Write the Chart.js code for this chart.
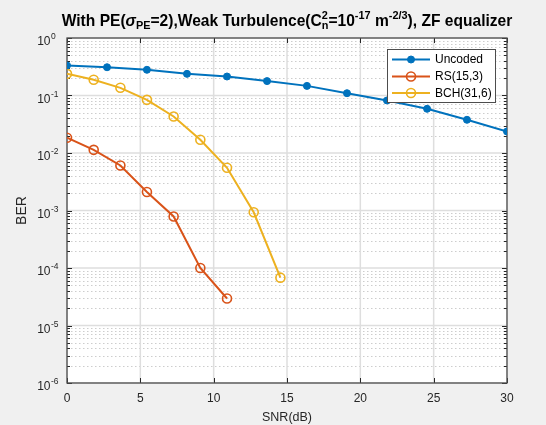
<!DOCTYPE html>
<html><head><meta charset="utf-8">
<script src="https://cdn.jsdelivr.net/npm/chart.js@4/dist/chart.umd.min.js"></script>
<style>html,body{margin:0;padding:0;background:#f0f0f0;overflow:hidden}canvas{display:block}</style>
</head><body>
<canvas id="c" width="546" height="425"></canvas>
<script>
// ---- data ----
const seriesLabels = ['Uncoded', 'RS(15,3)', 'BCH(31,6)'];
const snrUncoded = [0, 2.73, 5.45, 8.18, 10.91, 13.64, 16.36, 19.09, 21.82, 24.55, 27.27, 30];
const berUncoded = [0.333, 0.31, 0.28, 0.238, 0.214, 0.178, 0.147, 0.1096, 0.082, 0.0587, 0.0378, 0.0237];
const snrRS = [0, 1.82, 3.64, 5.45, 7.27, 9.09, 10.91];
const berRS = [0.0184, 0.01135, 0.00607, 0.0021, 0.000787, 0.0001, 0.0000295];
const snrBCH = [0, 1.82, 3.64, 5.45, 7.27, 9.09, 10.91, 12.73, 14.55];
const berBCH = [0.238, 0.1875, 0.136, 0.084, 0.0431, 0.017, 0.00553, 0.00093, 0.000068];
const xTickValues = [0, 5, 10, 15, 20, 25, 30];
const yTickExponents = [0, -1, -2, -3, -4, -5, -6];
const xAxisTitle = 'SNR(dB)';
const yAxisTitle = 'BER';
const titleParts = [
  ['With PE(', 'n'], ['σ', 'i'], ['PE', 'sub'], ['=2),Weak Turbulence(C', 'n'],
  ['2|n', 'stack'], ['=10', 'n'], ['-17', 'sup'], [' m', 'n'], ['-2/3', 'sup'],
  ['), ZF equalizer', 'n']
];
const seriesColors = ['#0072BD', '#D95319', '#EDB120'];

const FONT = "'Liberation Sans', Arial, Helvetica, sans-serif";
const toPts = (xs, ys) => xs.map((x, i) => ({x: x, y: ys[i]}));

const framePlugin = {
  id: 'frame',
  beforeDraw(chart) {
    const {ctx, chartArea: a} = chart;
    ctx.save();
    ctx.fillStyle = '#f0f0f0';
    ctx.fillRect(0, 0, chart.width, chart.height);
    ctx.fillStyle = '#ffffff';
    ctx.fillRect(a.left, a.top, a.right - a.left, a.bottom - a.top);
    ctx.restore();
  },
  beforeDatasetsDraw(chart) {
    const {ctx, chartArea: a, scales} = chart;
    const xs = scales.x, ys = scales.y;
    ctx.save();
    // minor dotted horizontal grid
    ctx.lineWidth = 1;
    ctx.strokeStyle = '#cdcdcd';
    ctx.setLineDash([1.5, 2.5]);
    for (const e of yTickExponents) {
      if (e === 0) continue;
      for (let k = 2; k <= 9; k++) {
        const y = Math.round(ys.getPixelForValue(k * Math.pow(10, e))) + 0.5;
        ctx.beginPath(); ctx.moveTo(a.left, y); ctx.lineTo(a.right, y); ctx.stroke();
      }
    }
    ctx.setLineDash([]);
    // major grid
    ctx.strokeStyle = '#dedede';
    ctx.lineWidth = 1.5;
    for (const e of yTickExponents) {
      const y = ys.getPixelForValue(Math.pow(10, e));
      ctx.beginPath(); ctx.moveTo(a.left, y); ctx.lineTo(a.right, y); ctx.stroke();
    }
    for (const v of xTickValues) {
      const x = xs.getPixelForValue(v);
      ctx.beginPath(); ctx.moveTo(x, a.top); ctx.lineTo(x, a.bottom); ctx.stroke();
    }
    // ticks
    ctx.strokeStyle = '#262626';
    ctx.lineWidth = 1;
    for (const e of yTickExponents) {
      const y = Math.round(ys.getPixelForValue(Math.pow(10, e))) + 0.5;
      ctx.beginPath();
      ctx.moveTo(a.left, y); ctx.lineTo(a.left + 5, y);
      ctx.moveTo(a.right, y); ctx.lineTo(a.right - 5, y);
      ctx.stroke();
    }
    for (const e of yTickExponents) {
      if (e === 0) continue;
      for (let k = 2; k <= 9; k++) {
        const yy = Math.round(ys.getPixelForValue(k * Math.pow(10, e))) + 0.5;
        ctx.beginPath();
        ctx.moveTo(a.left, yy); ctx.lineTo(a.left + 3, yy);
        ctx.moveTo(a.right, yy); ctx.lineTo(a.right - 3, yy);
        ctx.stroke();
      }
    }
    for (const v of xTickValues) {
      const x = Math.round(xs.getPixelForValue(v)) + 0.5;
      ctx.beginPath();
      ctx.moveTo(x, a.bottom); ctx.lineTo(x, a.bottom - 5);
      ctx.moveTo(x, a.top); ctx.lineTo(x, a.top + 5);
      ctx.stroke();
    }
    // box
    ctx.strokeStyle = '#4d4d4d';
    ctx.lineWidth = 1.3;
    ctx.strokeRect(a.left, a.top, a.right - a.left, a.bottom - a.top);
    ctx.restore();
  },
  afterDatasetsDraw(chart) {
    const {ctx, chartArea: a, scales} = chart;
    const ys = scales.y;
    ctx.save();
    // y tick labels with superscript exponents
    ctx.fillStyle = '#262626';
    for (const e of yTickExponents) {
      const y = ys.getPixelForValue(Math.pow(10, e));
      ctx.font = '12px ' + FONT;
      ctx.textAlign = 'right';
      ctx.textBaseline = 'alphabetic';
      ctx.fillText('10', 50.5, y + 7);
      ctx.font = '8.5px ' + FONT;
      ctx.textAlign = 'left';
      ctx.fillText(e === 0 ? '0' : '-' + Math.abs(e), 51, y + 1);
    }
    // legend
    const lx = 387, ly = 49, lw = 108, lh = 53;
    ctx.fillStyle = '#ffffff';
    ctx.fillRect(lx, ly, lw, lh);
    ctx.strokeStyle = '#4d4d4d';
    ctx.lineWidth = 1;
    ctx.strokeRect(lx + 0.5, ly + 0.5, lw, lh);
    const rows = [59.5, 76.5, 93];
    chart.data.datasets.forEach((ds, i) => {
      const y = rows[i];
      ctx.strokeStyle = ds.borderColor;
      ctx.lineWidth = 2;
      ctx.beginPath(); ctx.moveTo(392, y); ctx.lineTo(430, y); ctx.stroke();
      ctx.beginPath();
      ctx.arc(411, y, ds.pointRadius, 0, Math.PI * 2);
      ctx.lineWidth = ds.pointBorderWidth;
      if (ds.pointBackgroundColor !== 'rgba(0,0,0,0)') { ctx.fillStyle = ds.pointBackgroundColor; ctx.fill(); }
      ctx.stroke();
      ctx.fillStyle = '#000000';
      ctx.font = '12px ' + FONT;
      ctx.textAlign = 'left';
      ctx.textBaseline = 'middle';
      ctx.fillText(ds.label, 435, y + 0.5);
    });
    ctx.restore();
  },
  afterDraw(chart) {
    const {ctx, chartArea: a} = chart;
    ctx.save();
    const targetWidth = 451;
    const mk = (size) => ({
      n: 'bold ' + size + 'px ' + FONT,
      i: 'bold italic ' + size + 'px ' + FONT,
      sub: 'bold ' + (size * 0.7) + 'px ' + FONT,
      sup: 'bold ' + (size * 0.7) + 'px ' + FONT,
      stack: 'bold ' + (size * 0.7) + 'px ' + FONT,
    });
    const measure = (fonts) => titleParts.map(([t, k]) => {
      ctx.font = fonts[k];
      if (k === 'stack') return Math.max(...t.split('|').map(s => ctx.measureText(s).width));
      return ctx.measureText(t).width;
    });
    let w0 = measure(mk(15)).reduce((p, c) => p + c, 0);
    const size = 15 * targetWidth / w0;
    const fonts = mk(size);
    const widths = measure(fonts);
    const total = widths.reduce((p, c) => p + c, 0);
    let x = (a.left + a.right) / 2 - total / 2;
    const base = 25.5;
    ctx.fillStyle = '#000000';
    ctx.textAlign = 'left';
    ctx.textBaseline = 'alphabetic';
    titleParts.forEach(([t, k], i) => {
      ctx.font = fonts[k];
      if (k === 'stack') {
        const [sp, sb] = t.split('|');
        ctx.fillText(sp, x, base - 6.5);
        ctx.fillText(sb, x, base + 3.5);
      } else {
        const dy = k === 'sub' ? 3.5 : (k === 'sup' ? -6.5 : 0);
        ctx.fillText(t, x, base + dy);
      }
      x += widths[i];
    });
    ctx.restore();
  }
};

new Chart(document.getElementById('c'), {
  type: 'line',
  data: {
    datasets: [
      {label: seriesLabels[0], data: toPts(snrUncoded, berUncoded), borderColor: seriesColors[0],
       backgroundColor: seriesColors[0], pointBackgroundColor: seriesColors[0], pointBorderColor: seriesColors[0],
       pointRadius: 3.5, pointBorderWidth: 1, borderWidth: 2, tension: 0, fill: false},
      {label: seriesLabels[1], data: toPts(snrRS, berRS), borderColor: seriesColors[1],
       backgroundColor: 'rgba(0,0,0,0)', pointBackgroundColor: 'rgba(0,0,0,0)', pointBorderColor: seriesColors[1],
       pointRadius: 4.5, pointBorderWidth: 1.6, borderWidth: 2, tension: 0, fill: false},
      {label: seriesLabels[2], data: toPts(snrBCH, berBCH), borderColor: seriesColors[2],
       backgroundColor: 'rgba(0,0,0,0)', pointBackgroundColor: 'rgba(0,0,0,0)', pointBorderColor: seriesColors[2],
       pointRadius: 4.5, pointBorderWidth: 1.6, borderWidth: 2, tension: 0, fill: false}
    ]
  },
  options: {
    responsive: false,
    animation: false,
    devicePixelRatio: 1,
    layout: {padding: {left: 0, top: 38, right: 39, bottom: 0}},
    plugins: {legend: {display: false}, title: {display: false}, tooltip: {enabled: false}},
    scales: {
      x: {
        type: 'linear', min: 0, max: 30,
        grid: {display: false, drawTicks: false},
        border: {display: false},
        ticks: {font: {size: 12, family: FONT}, color: '#262626', padding: 8, maxRotation: 0},
        afterBuildTicks: s => { s.ticks = xTickValues.map(v => ({value: v})); },
        afterFit: s => { s.height = 42; },
        title: {display: true, text: xAxisTitle, font: {size: 12.5, family: FONT}, color: '#262626',
                padding: {top: 8, bottom: 0}}
      },
      y: {
        type: 'logarithmic', min: 1e-6, max: 1,
        grid: {display: false, drawTicks: false},
        border: {display: false},
        ticks: {display: false},
        afterFit: s => { s.width = 67; },
        title: {display: true, text: yAxisTitle, font: {size: 14, family: FONT}, color: '#262626',
                padding: {top: 14, bottom: 0}}
      }
    }
  },
  plugins: [framePlugin]
});
</script>
</body></html>
